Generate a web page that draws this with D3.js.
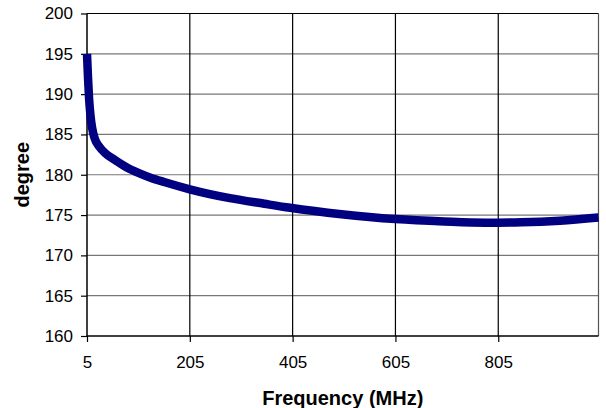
<!DOCTYPE html>
<html>
<head>
<meta charset="utf-8">
<script src="https://cdn.jsdelivr.net/npm/d3@7"></script>
<style>
html,body{margin:0;padding:0;background:#fff;}
svg{display:block;font-family:"Liberation Sans",Arial,sans-serif;}
</style>
</head>
<body>
<svg id="chart" width="606" height="408"></svg>
<script>
const freq   = [5, 7, 9, 12, 15, 20, 30, 40, 60, 80, 106, 130, 155, 205, 283, 350, 400, 500, 605, 700, 780, 850, 925, 1000];
const degree = [195, 192, 189.5, 187.2, 185.8, 184.5, 183.4, 182.7, 181.8, 181.0, 180.2, 179.6, 179.1, 178.2, 177.1, 176.4, 175.9, 175.1, 174.5, 174.2, 174.05, 174.1, 174.3, 174.7];
const xTicks = [5, 205, 405, 605, 805];
const yTicks = [160, 165, 170, 175, 180, 185, 190, 195, 200];
const xTitle = "Frequency (MHz)";
const yTitle = "degree";

const svg = d3.select("#chart");
const L = 87, R = 598.5, T = 13.5, B = 336;
const x = d3.scaleLinear().domain([5, 1000]).range([L, R]);
const y = d3.scaleLinear().domain([160, 200]).range([B, T]);

// horizontal gridlines
svg.append("g").selectAll("line").data(yTicks.filter(v => v > 160 && v < 200)).join("line")
  .attr("x1", L).attr("x2", R).attr("y1", d => y(d)).attr("y2", d => y(d))
  .attr("stroke", "#777").attr("stroke-width", 1.2);
// top line
svg.append("line").attr("x1", L).attr("x2", R).attr("y1", y(200)).attr("y2", y(200))
  .attr("stroke", "#000").attr("stroke-width", 1.2);
// vertical gridlines
svg.append("g").selectAll("line").data(xTicks.slice(1)).join("line")
  .attr("x1", d => x(d)).attr("x2", d => x(d)).attr("y1", T).attr("y2", B)
  .attr("stroke", "#000").attr("stroke-width", 1.2);
// right border
svg.append("line").attr("x1", R).attr("x2", R).attr("y1", T).attr("y2", B)
  .attr("stroke", "#555").attr("stroke-width", 1.2);

// axes
const xAxis = d3.axisBottom(x).tickValues(xTicks).tickSize(6).tickPadding(14).tickFormat(d3.format("d"));
const gx = svg.append("g").attr("transform", `translate(0,${B})`).call(xAxis);
gx.select(".domain").attr("stroke", "#000").attr("stroke-width", 1.5).attr("d", `M${L},0H${R}`);
gx.selectAll(".tick line").attr("stroke", "#000").attr("stroke-width", 1.2);
gx.selectAll("text").attr("font-size", 17).attr("fill", "#000").attr("font-family", "Liberation Sans, Arial, sans-serif");

const yAxis = d3.axisLeft(y).tickValues(yTicks).tickSize(6).tickPadding(8).tickFormat(d3.format("d"));
const gy = svg.append("g").attr("transform", `translate(${L},0)`).call(yAxis);
gy.select(".domain").attr("stroke", "#000").attr("stroke-width", 1.5).attr("d", `M0,${T}V${B}`);
gy.selectAll(".tick line").attr("stroke", "#000").attr("stroke-width", 1.2);
gy.selectAll("text").attr("font-size", 17).attr("fill", "#000").attr("font-family", "Liberation Sans, Arial, sans-serif");

// curve
const data = freq.map((f, i) => ({f, v: degree[i]}));
const line = d3.line().x(d => x(d.f)).y(d => y(d.v)).curve(d3.curveMonotoneX);
svg.append("path").datum(data).attr("d", line)
  .attr("fill", "none").attr("stroke", "#000080").attr("stroke-width", 8.5)
  .attr("stroke-linejoin", "round");

// titles
svg.append("text").attr("x", (L + R) / 2).attr("y", 405).attr("text-anchor", "middle")
  .attr("font-size", 20).attr("font-weight", "bold").attr("fill", "#000").text(xTitle);
svg.append("text").attr("transform", `translate(29,${(T + B) / 2}) rotate(-90)`).attr("text-anchor", "middle")
  .attr("font-size", 20).attr("font-weight", "bold").attr("fill", "#000").text(yTitle);
</script>
</body>
</html>
